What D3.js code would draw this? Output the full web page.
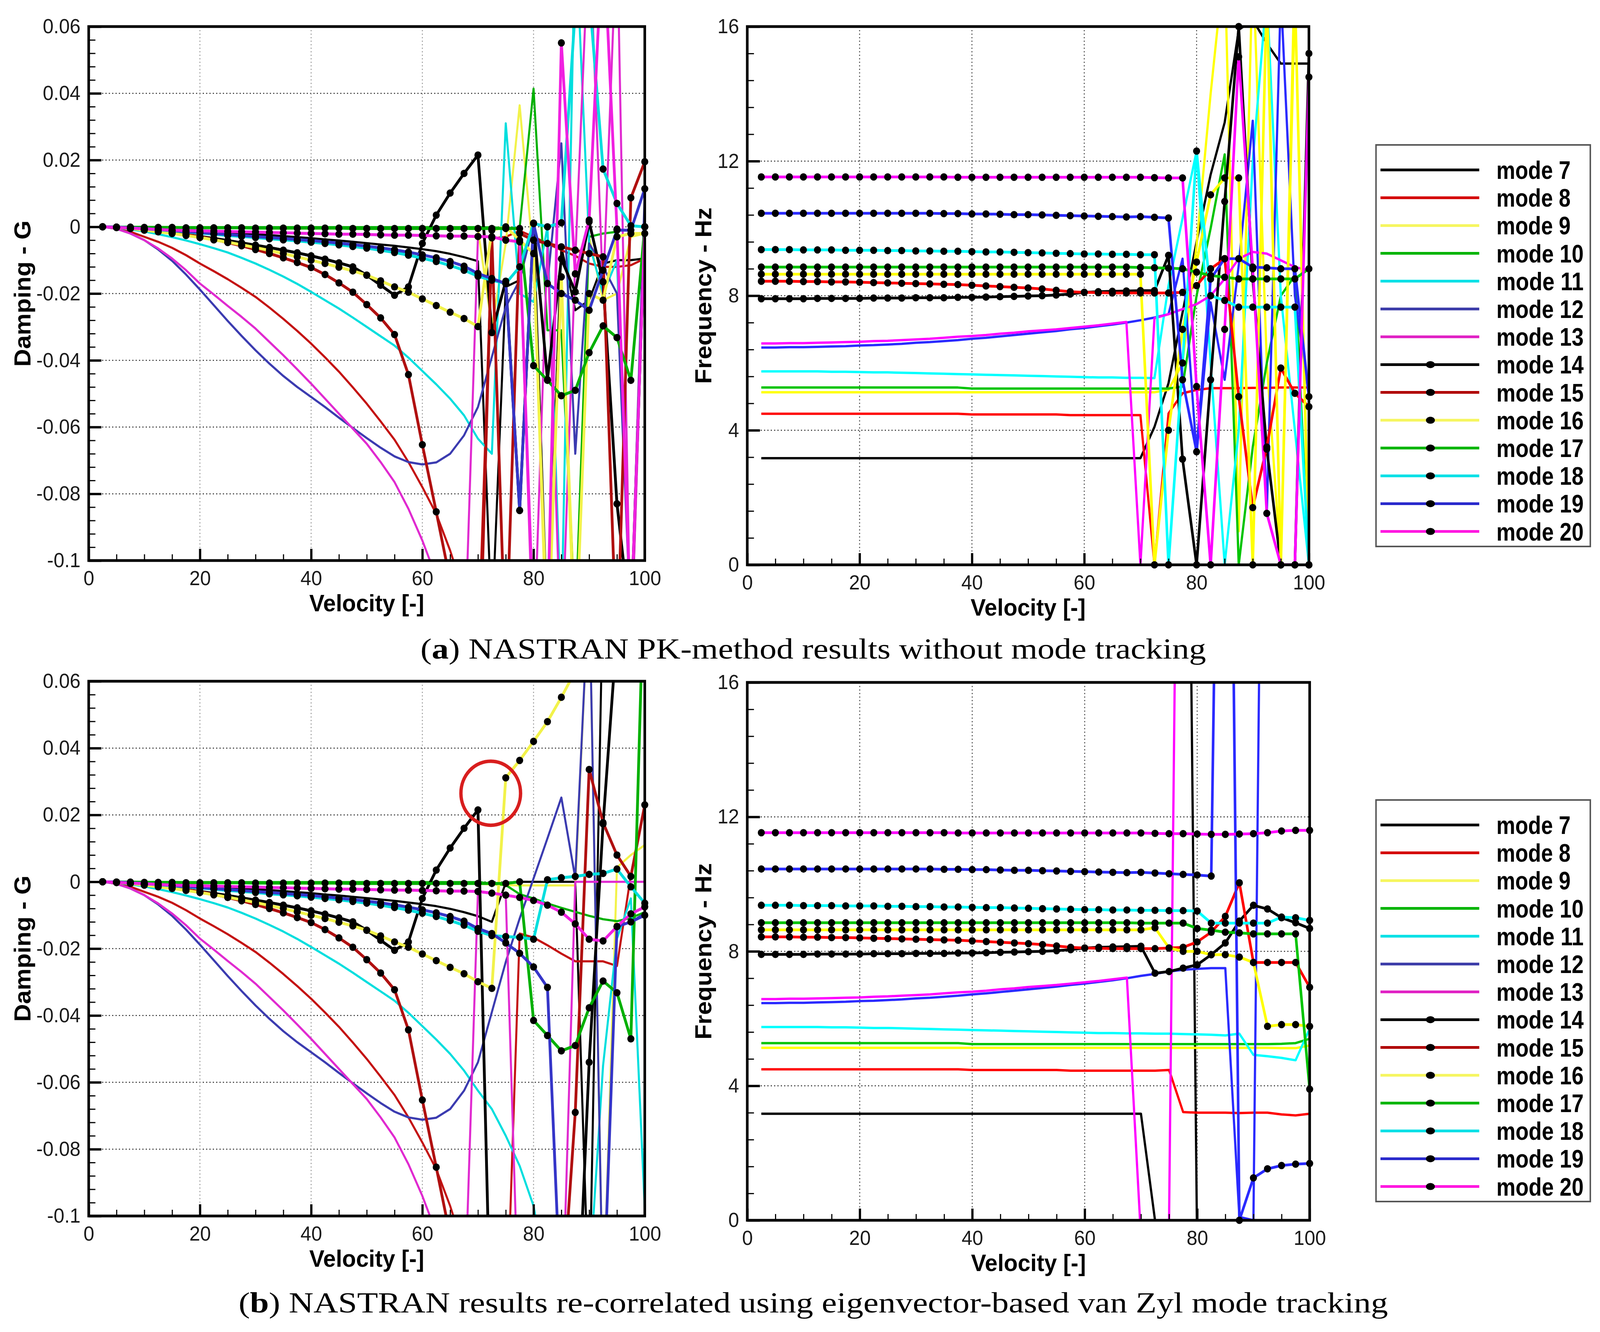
<!DOCTYPE html>
<html>
<head>
<meta charset="utf-8">
<script src="https://cdn.jsdelivr.net/npm/d3@7/dist/d3.min.js"></script>
<style>
  html, body { margin: 0; padding: 0; background: #fff; overflow: hidden; }
  svg { display: block; }
</style>
</head>
<body>
<div id="chart"></div>
<script>
// flutter solution velocities
const velocity = [2.5, 5, 7.5, 10, 12.5, 15, 17.5, 20, 22.5, 25, 27.5, 30, 32.5, 35, 37.5, 40, 42.5, 45, 47.5, 50,
  52.5, 55, 57.5, 60, 62.5, 65, 67.5, 70, 72.5, 75, 77.5, 80, 82.5, 85, 87.5, 90, 92.5, 95, 97.5, 100];
const modes = [7, 8, 9, 10, 11, 12, 13, 14, 15, 16, 17, 18, 19, 20];
const legendLabels = ["mode 7", "mode 8", "mode 9", "mode 10", "mode 11", "mode 12", "mode 13",
  "mode 14", "mode 15", "mode 16", "mode 17", "mode 18", "mode 19", "mode 20"];
const velTicks = [0, 20, 40, 60, 80, 100];
const dampTicks = [-0.1, -0.08, -0.06, -0.04, -0.02, 0, 0.02, 0.04, 0.06];
const freqTicks = [0, 4, 8, 12, 16];
const captionA = ["a", ") NASTRAN PK-method results without mode tracking"];
const captionB = ["b", ") NASTRAN results re-correlated using eigenvector-based van Zyl mode tracking"];

// damping G, V = 2.5 .. 67.5 (same in both runs)
const gHead7 = [0,-0.0001,-0.0002,-0.0004,-0.0005,-0.0007,-0.0009,-0.0012,-0.0014,-0.0017,-0.0019,-0.0022,-0.0025,-0.0028,-0.0031,-0.0034,-0.0038,-0.0041,-0.0045,-0.0049,-0.0053,-0.0057,-0.0062,-0.0067,-0.0073,-0.0081,-0.0091];
const gHead8 = [0,-0.0005,-0.0015,-0.003,-0.0045,-0.0063,-0.0085,-0.011,-0.0133,-0.0157,-0.0183,-0.021,-0.0242,-0.0276,-0.0312,-0.035,-0.0391,-0.0434,-0.0481,-0.053,-0.0583,-0.0638,-0.0705,-0.078,-0.086,-0.097,-0.11];
const gHead9 = [0,-0.0001,-0.0001,-0.0002,-0.0002,-0.0003,-0.0003,-0.0003,-0.0004,-0.0004,-0.0004,-0.0004,-0.0005,-0.0005,-0.0005,-0.0005,-0.0005,-0.0005,-0.0006,-0.0006,-0.0006,-0.0006,-0.0006,-0.0006,-0.0006,-0.0006,-0.0006];
const gHead10 = [0,0,0,0,-0.0001,-0.0001,-0.0001,-0.0001,-0.0001,-0.0001,-0.0001,-0.0001,-0.0001,-0.0001,-0.0001,-0.0001,-0.0001,-0.0001,-0.0001,-0.0001,-0.0001,-0.0001,-0.0001,-0.0001,-0.0001,-0.0001,-0.0001];
const gHead11 = [0,-0.0003,-0.0008,-0.0014,-0.0022,-0.0031,-0.0041,-0.0052,-0.0064,-0.0077,-0.0093,-0.011,-0.0129,-0.0149,-0.0171,-0.0195,-0.022,-0.0245,-0.0272,-0.03,-0.0328,-0.0356,-0.0392,-0.0432,-0.0472,-0.0515,-0.0565];
const gHead12 = [0,-0.0006,-0.002,-0.004,-0.0068,-0.0102,-0.0143,-0.0188,-0.0235,-0.0282,-0.0327,-0.037,-0.041,-0.0447,-0.048,-0.051,-0.054,-0.0572,-0.0603,-0.0633,-0.0662,-0.0688,-0.0705,-0.0712,-0.0706,-0.068,-0.0625];
const gHead13 = [0,-0.0006,-0.002,-0.004,-0.0065,-0.0095,-0.013,-0.017,-0.0203,-0.0237,-0.027,-0.0305,-0.0345,-0.0385,-0.0427,-0.047,-0.0515,-0.056,-0.0605,-0.065,-0.0705,-0.0765,-0.0845,-0.094,-0.105,-0.118,-0.132];
const gHead14 = [0,-0.0002,-0.0005,-0.0009,-0.0013,-0.0018,-0.0023,-0.0029,-0.0035,-0.0041,-0.0048,-0.0055,-0.0062,-0.007,-0.0078,-0.0087,-0.0097,-0.0108,-0.012,-0.0145,-0.0175,-0.0205,-0.018,-0.005,0.0035,0.0101,0.016];
const gHead15 = [0,-0.0002,-0.0004,-0.0008,-0.0012,-0.0017,-0.0023,-0.003,-0.0038,-0.0047,-0.0057,-0.0068,-0.008,-0.0093,-0.0107,-0.0122,-0.0143,-0.0168,-0.0196,-0.0233,-0.0273,-0.0323,-0.0443,-0.0653,-0.0854,-0.106,-0.13];
const gHead16 = [0,-0.0002,-0.0005,-0.001,-0.0015,-0.002,-0.0026,-0.0032,-0.0039,-0.0046,-0.0054,-0.0062,-0.0071,-0.008,-0.009,-0.01,-0.011,-0.0121,-0.0132,-0.0145,-0.0162,-0.018,-0.0196,-0.0216,-0.0236,-0.0256,-0.0275];
const gHead17 = [0,-0.0001,-0.0001,-0.0002,-0.0002,-0.0002,-0.0003,-0.0003,-0.0003,-0.0003,-0.0003,-0.0004,-0.0004,-0.0004,-0.0004,-0.0004,-0.0004,-0.0004,-0.0005,-0.0005,-0.0005,-0.0005,-0.0005,-0.0005,-0.0005,-0.0005,-0.0005];
const gHead18 = [0,-0.0001,-0.0003,-0.0006,-0.0009,-0.0012,-0.0015,-0.0019,-0.0022,-0.0026,-0.0029,-0.0032,-0.0036,-0.0039,-0.0042,-0.0046,-0.005,-0.0054,-0.0059,-0.0064,-0.007,-0.0077,-0.0085,-0.0094,-0.0104,-0.0116,-0.013];
const gHead19 = [0,-0.0001,-0.0003,-0.0005,-0.0008,-0.0011,-0.0014,-0.0017,-0.002,-0.0023,-0.0026,-0.0029,-0.0032,-0.0035,-0.0038,-0.0041,-0.0045,-0.0049,-0.0053,-0.0058,-0.0063,-0.0069,-0.0076,-0.0084,-0.0093,-0.0104,-0.0118];
const gHead20 = [0,-0.0002,-0.0004,-0.0006,-0.0008,-0.001,-0.0011,-0.0012,-0.0013,-0.0014,-0.0015,-0.0016,-0.0017,-0.0018,-0.0019,-0.002,-0.0021,-0.0022,-0.0022,-0.0023,-0.0024,-0.0025,-0.0025,-0.0026,-0.0027,-0.0028,-0.0028];

// damping G, V = 70 .. 100, without mode tracking
const gA7 = [-0.0103,-0.12,-0.018,-0.016,0.001,-0.12,-0.006,-0.025,-0.022,-0.011,-0.01,-0.01,-0.0095];
const gA8 = [-0.13,-0.0035,-0.003,-0.0012,-0.003,-0.005,-0.007,-0.0087,-0.011,-0.012,-0.012,-0.0115,-0.0095];
const gA9 = [-0.0006,-0.03,-0.005,0.0364,-0.01,-0.12,-0.015,-0.12,-0.003,-0.022,-0.02,-0.003,-0.002];
const gA10 = [-0.0001,-0.0002,-0.0003,-0.0003,0.0414,-0.031,-0.031,-0.12,-0.003,-0.002,-0.0015,-0.12,0];
const gA11 = [-0.0635,-0.068,0.031,-0.02,-0.0225,0,-0.12,0.09,-0.005,-0.02,-0.01,-0.12,0];
const gA12 = [-0.054,-0.039,-0.024,-0.016,0.001,-0.017,0.025,-0.068,-0.005,-0.012,-0.02,-0.12,0.011];
const gA13 = [-0.003,-0.003,-0.13,-0.004,-0.13,-0.005,-0.13,-0.01,0.09,-0.02,0.09,-0.13,0];
const gA14 = [0.0215,-0.0317,-0.0163,-0.085,0.0011,-0.0458,-0.0096,-0.0195,0.0015,-0.0165,-0.083,-0.12,0];
const gA15 = [-0.15,-0.0033,-0.13,-0.002,-0.004,-0.005,-0.006,-0.007,-0.008,-0.009,-0.13,0.0087,0.0195];
const gA16 = [-0.0299,-0.001,0,-0.004,-0.008,-0.13,-0.015,-0.13,-0.02,-0.022,-0.003,-0.002,-0.002];
const gA17 = [-0.0005,-0.0005,-0.0005,-0.0005,-0.0416,-0.046,-0.0506,-0.049,-0.0377,-0.0297,-0.0332,-0.046,0];
const gA18 = [-0.0148,-0.016,-0.017,-0.012,0.001,0,0.0012,0.065,0.07,0.0173,0.007,0.0003,0];
const gA19 = [-0.014,-0.0155,-0.017,-0.085,0.001,-0.017,-0.02,-0.022,-0.025,-0.013,-0.001,-0.001,0.0114];
const gA20 = [-0.0029,-0.003,-0.004,-0.0045,-0.12,-0.12,0.0551,-0.0141,0.002,0.09,-0.0007,-0.12,0];

// damping G, V = 70 .. 100, van Zyl tracking
const gB7 = [-0.0103,-0.012,-0.0003,0,0,0,0,0,-0.13,0.09,0.09,0.09,0.09];
const gB8 = [-0.12,-0.13,-0.14,-0.0155,-0.0167,-0.019,-0.0215,-0.0238,-0.0238,-0.0238,-0.0252,0.002,0.023];
const gB9 = [-0.0006,-0.0008,-0.001,-0.0011,-0.0011,-0.0011,-0.0011,-0.0011,0.09,-0.13,0.0043,0.008,0.011];
const gB10 = [-0.0001,-0.0005,-0.001,-0.0037,-0.005,-0.0065,-0.0078,-0.009,-0.0102,-0.0112,-0.0118,-0.0108,-0.0091];
const gB11 = [-0.0625,-0.068,-0.076,-0.085,-0.097,-0.12,-0.12,-0.12,-0.12,-0.055,-0.017,-0.005,-0.098];
const gB12 = [-0.054,-0.039,-0.024,-0.011,0.001,0.013,0.0252,0.0011,0.09,-0.13,-0.0135,-0.012,-0.0095];
const gB13 = [-0.003,-0.0035,-0.004,-0.14,-0.14,-0.14,-0.14,0,0,0,0,0,0];
const gB14 = [0.0215,-0.15,-0.15,-0.15,-0.15,-0.15,-0.15,-0.15,-0.054,0.0173,0.075,0.09,0.09];
const gB15 = [-0.15,-0.15,-0.15,-0.15,-0.15,-0.15,-0.13,-0.069,0.0336,0.0177,0.008,0.0016,0.023];
const gB16 = [-0.0299,-0.0319,0.0311,0.0363,0.042,0.0479,0.0552,0.063,0.07,0.08,0.09,0.1,0.1];
const gB17 = [-0.0005,-0.0005,-0.0005,0,-0.0415,-0.046,-0.0506,-0.049,-0.0377,-0.0297,-0.0332,-0.047,0.1];
const gB18 = [-0.0148,-0.0161,-0.0164,-0.0166,-0.0172,0.0006,0.0012,0.0016,0.0022,0.0025,0.0038,-0.0015,-0.0064];
const gB19 = [-0.014,-0.0155,-0.0183,-0.0214,-0.0255,-0.0316,-0.13,-0.13,-0.13,-0.13,-0.0134,-0.012,-0.01];
const gB20 = [-0.0029,-0.0034,-0.004,-0.0047,-0.0056,-0.007,-0.0091,-0.0126,-0.0172,-0.0177,-0.0134,-0.0096,-0.0075];

// frequency Hz, V = 2.5 .. 67.5 (same in both runs)
const fHead7 = [3.17,3.17,3.17,3.17,3.17,3.17,3.17,3.17,3.17,3.17,3.17,3.17,3.17,3.17,3.17,3.17,3.17,3.17,3.17,3.17,3.17,3.17,3.17,3.17,3.17,3.17,3.17];
const fHead8 = [4.49,4.49,4.49,4.49,4.49,4.49,4.49,4.49,4.49,4.49,4.49,4.49,4.49,4.49,4.49,4.47,4.47,4.47,4.47,4.47,4.47,4.47,4.45,4.45,4.45,4.45,4.45];
const fHead9 = [5.13,5.13,5.13,5.13,5.13,5.13,5.13,5.13,5.13,5.13,5.13,5.13,5.13,5.13,5.13,5.13,5.13,5.13,5.13,5.13,5.13,5.13,5.13,5.13,5.13,5.13,5.13];
const fHead10 = [5.27,5.27,5.27,5.27,5.27,5.27,5.27,5.27,5.27,5.27,5.27,5.27,5.27,5.27,5.27,5.24,5.24,5.24,5.24,5.24,5.24,5.24,5.24,5.24,5.24,5.24,5.24];
const fHead11 = [5.75,5.75,5.75,5.75,5.75,5.74,5.74,5.73,5.72,5.72,5.71,5.7,5.69,5.68,5.67,5.66,5.65,5.64,5.63,5.62,5.61,5.6,5.59,5.58,5.57,5.57,5.56];
const fHead12 = [6.46,6.46,6.47,6.47,6.48,6.49,6.5,6.52,6.53,6.55,6.57,6.6,6.62,6.65,6.68,6.72,6.75,6.79,6.83,6.87,6.91,6.95,7.0,7.04,7.09,7.14,7.2];
const fHead13 = [6.58,6.58,6.59,6.59,6.6,6.61,6.62,6.63,6.65,6.66,6.68,6.7,6.72,6.75,6.78,6.8,6.83,6.87,6.9,6.94,6.97,7.0,7.04,7.08,7.12,7.17,7.22];
const fHead14 = [7.91,7.91,7.91,7.91,7.92,7.92,7.92,7.92,7.93,7.93,7.93,7.94,7.94,7.94,7.95,7.95,7.96,7.97,7.98,7.99,8.0,8.02,8.05,8.1,8.12,8.13,8.14];
const fHead15 = [8.43,8.43,8.43,8.42,8.42,8.41,8.41,8.4,8.39,8.38,8.37,8.36,8.35,8.34,8.33,8.31,8.29,8.27,8.25,8.23,8.2,8.16,8.12,8.1,8.09,8.08,8.08];
const fHead16 = [8.64,8.64,8.64,8.64,8.64,8.64,8.64,8.64,8.64,8.64,8.64,8.64,8.64,8.64,8.64,8.64,8.64,8.64,8.64,8.64,8.64,8.64,8.64,8.64,8.64,8.64,8.64];
const fHead17 = [8.85,8.85,8.85,8.85,8.85,8.85,8.85,8.85,8.85,8.85,8.85,8.85,8.85,8.85,8.85,8.85,8.85,8.85,8.85,8.85,8.85,8.85,8.85,8.85,8.85,8.85,8.85];
const fHead18 = [9.37,9.37,9.37,9.36,9.36,9.36,9.35,9.35,9.35,9.34,9.34,9.33,9.33,9.32,9.32,9.31,9.3,9.3,9.29,9.28,9.27,9.26,9.25,9.24,9.24,9.23,9.23];
const fHead19 = [10.45,10.45,10.45,10.45,10.45,10.45,10.45,10.45,10.45,10.45,10.45,10.45,10.45,10.44,10.44,10.43,10.43,10.42,10.41,10.41,10.4,10.39,10.38,10.37,10.36,10.35,10.34];
const fHead20 = [11.53,11.53,11.53,11.53,11.53,11.53,11.53,11.53,11.53,11.53,11.53,11.53,11.53,11.53,11.52,11.52,11.52,11.52,11.52,11.52,11.52,11.52,11.52,11.52,11.52,11.52,11.52];

// frequency Hz, V = 70 .. 100, without mode tracking
const fA7 = [3.17,4.1,5.4,7.5,9.6,11.6,13.15,15.9,16.2,15.5,14.9,14.9,14.9];
const fA8 = [4.45,0,4.5,5.1,5.2,5.25,5.25,5.25,5.26,5.26,5.27,5.27,5.27];
const fA9 = [5.13,5.13,5.2,6.0,9.5,14.0,18,1.0,18,6.0,0,18,18];
const fA10 = [5.24,5.24,5.24,5.3,8.0,10.0,12.2,0,3.5,6.0,8.0,8.6,0];
const fA11 = [5.56,5.55,8.3,10.3,12.3,6.0,0,4.0,12.0,17,8.0,4.0,0];
const fA12 = [7.27,7.35,7.45,9.1,3.3,7.8,5.5,8.9,13.2,1.5,17,8.0,5.0];
const fA13 = [0,7.33,7.45,7.6,7.75,8.0,8.5,9.1,9.3,9.25,9.05,8.85,8.75];
const fA14 = [8.15,8.15,9.2,3.14,0,5.5,10.8,16.0,8.5,3.44,0,0,15.2];
const fA15 = [8.08,8.08,8.08,8.1,8.3,8.8,9.1,5.0,1.7,3.5,5.85,5.1,4.7];
const fA16 = [8.64,0,4.0,7.0,9.0,11.0,11.5,11.5,0,17,0,17,0];
const fA17 = [8.84,8.83,8.82,8.8,8.7,8.6,8.55,8.5,8.5,8.5,8.5,8.5,8.8];
const fA18 = [9.22,9.22,0,6.0,12.3,8.0,7.86,7.66,7.66,7.66,7.66,7.66,0];
const fA19 = [10.35,10.33,10.31,5.5,3.36,8.5,9.1,9.1,8.85,8.83,8.8,8.8,5.0];
const fA20 = [11.52,11.51,11.5,11.5,5.3,0,7.0,15.1,8.8,1.53,0,0,14.5];

// frequency Hz, V = 70 .. 100, van Zyl tracking
const fB7 = [3.17,0,null,40,-1,null,null,null,null,null,null,null,null];
const fB8 = [4.45,4.45,4.47,3.22,3.2,3.2,3.2,3.19,3.2,3.2,3.15,3.12,3.17];
const fB9 = [5.13,5.13,5.13,5.13,5.13,5.13,5.13,5.13,5.13,5.13,5.12,5.12,5.2];
const fB10 = [5.24,5.24,5.24,5.24,5.24,5.24,5.24,5.24,5.24,5.24,5.25,5.27,5.4];
const fB11 = [5.56,5.55,5.55,5.54,5.53,5.52,5.5,5.55,4.92,4.88,4.83,4.76,5.7];
const fB12 = [7.27,7.33,7.4,7.45,7.48,7.5,7.5,0.1,0,40,null,null,null];
const fB13 = [-0.5,null,0,40,null,null,null,null,null,null,null,null,null];
const fB14 = [8.15,7.35,7.4,7.5,7.6,7.9,8.25,8.9,9.37,9.26,9.0,8.85,8.68];
const fB15 = [8.08,8.08,8.1,8.12,8.28,8.57,9.04,10.04,7.67,7.67,7.67,7.67,6.93];
const fB16 = [8.64,8.7,8.1,8.0,8.0,7.9,7.9,7.83,7.67,5.77,5.82,5.82,5.77];
const fB17 = [8.84,8.84,8.84,8.84,8.68,8.63,8.57,8.55,8.52,8.52,8.52,8.52,3.9];
const fB18 = [9.22,9.22,9.21,9.21,9.2,8.84,8.84,8.84,8.84,8.84,9.02,9.0,8.92];
const fB19 = [10.35,10.33,10.31,10.29,10.27,10.24,40,0,1.26,1.53,1.63,1.67,1.69];
const fB20 = [11.52,11.51,11.5,11.5,11.49,11.48,11.48,11.49,11.5,11.53,11.58,11.6,11.6];

document.addEventListener('DOMContentLoaded', function() {

    const width = 4293;
    const height = 3410;
    const sans = "'Liberation Sans', Arial, Helvetica, sans-serif";

    // the drawing is laid out in a 4293 x 3410 box and stretched to the window
    const svg = d3.select("#chart")
        .append("svg")
        .attr("viewBox", `0 0 ${width} ${height}`)
        .attr("preserveAspectRatio", "none")
        .style("width", "100vw")
        .style("height", "100vh");

    svg.append("rect").attr("width", width).attr("height", height).attr("fill", "#fff");

    const dampColor = d3.scaleOrdinal().domain(modes)
        .range(["#000000", "#c41212", "#f2f24a", "#00b000", "#00dede", "#3b3bb0", "#e02ad0",
                "#000000", "#b01010", "#f2f24a", "#00b000", "#00dede", "#3535c8", "#f020e0"]);
    const freqColor = d3.scaleOrdinal().domain(modes)
        .range(["#000000", "#ff0000", "#ffff00", "#00c400", "#00ffff", "#2a2aff", "#ff00ff",
                "#000000", "#ff0000", "#ffff00", "#00c400", "#00ffff", "#2a2aff", "#ff00ff"]);
    const legendColor = d3.scaleOrdinal().domain(modes)
        .range(["#000000", "#d40000", "#f6f660", "#00b400", "#00e0e6", "#3a3aa8", "#e020c4",
                "#000000", "#b00000", "#f6f660", "#00b400", "#00e0e6", "#2a2acc", "#ff18e0"]);

    const gHead = {7: gHead7, 8: gHead8, 9: gHead9, 10: gHead10, 11: gHead11, 12: gHead12, 13: gHead13,
                   14: gHead14, 15: gHead15, 16: gHead16, 17: gHead17, 18: gHead18, 19: gHead19, 20: gHead20};
    const gTailA = {7: gA7, 8: gA8, 9: gA9, 10: gA10, 11: gA11, 12: gA12, 13: gA13,
                    14: gA14, 15: gA15, 16: gA16, 17: gA17, 18: gA18, 19: gA19, 20: gA20};
    const gTailB = {7: gB7, 8: gB8, 9: gB9, 10: gB10, 11: gB11, 12: gB12, 13: gB13,
                    14: gB14, 15: gB15, 16: gB16, 17: gB17, 18: gB18, 19: gB19, 20: gB20};
    const fHead = {7: fHead7, 8: fHead8, 9: fHead9, 10: fHead10, 11: fHead11, 12: fHead12, 13: fHead13,
                   14: fHead14, 15: fHead15, 16: fHead16, 17: fHead17, 18: fHead18, 19: fHead19, 20: fHead20};
    const fTailA = {7: fA7, 8: fA8, 9: fA9, 10: fA10, 11: fA11, 12: fA12, 13: fA13,
                    14: fA14, 15: fA15, 16: fA16, 17: fA17, 18: fA18, 19: fA19, 20: fA20};
    const fTailB = {7: fB7, 8: fB8, 9: fB9, 10: fB10, 11: fB11, 12: fB12, 13: fB13,
                    14: fB14, 15: fB15, 16: fB16, 17: fB17, 18: fB18, 19: fB19, 20: fB20};

    const hasSymbol = m => m >= 14;

    function seriesFor(head, tail) {
        return modes.map(m => ({
            mode: m,
            points: head[m].concat(tail[m]).map((v, i) => [velocity[i], v])
        }));
    }

    function panel(o) {
        const x = d3.scaleLinear().domain([0, 100]).range([o.left, o.right]);
        const y = d3.scaleLinear().domain([o.yTicks[0], o.yTicks[o.yTicks.length - 1]]).range([o.bottom, o.top]);
        const w = o.right - o.left, h = o.bottom - o.top;

        const defs = svg.append("defs");
        defs.append("clipPath").attr("id", o.id + "-l")
            .append("rect").attr("x", o.left).attr("y", o.top).attr("width", w).attr("height", h);
        defs.append("clipPath").attr("id", o.id + "-d")
            .append("rect").attr("x", o.left - 12).attr("y", o.top - 12).attr("width", w + 24).attr("height", h + 24);

        // dotted grid
        const grid = svg.append("g");
        grid.selectAll("line.h").data(o.yTicks.slice(1, -1)).join("line")
            .attr("class", "h")
            .attr("x1", o.left).attr("x2", o.right)
            .attr("y1", d => y(d)).attr("y2", d => y(d))
            .style("stroke", "#222").style("stroke-width", 2.5).style("stroke-dasharray", "3,6");
        grid.selectAll("line.v").data(velTicks.slice(1, -1)).join("line")
            .attr("class", "v")
            .attr("x1", d => x(d)).attr("x2", d => x(d))
            .attr("y1", o.top).attr("y2", o.bottom)
            .style("stroke", o.vGrid).style("stroke-width", 2.5).style("stroke-dasharray", "3,6");

        // curves
        const line = d3.line()
            .defined(d => d[1] != null)
            .x(d => x(d[0]))
            .y(d => y(d[1]));

        const lines = svg.append("g").attr("clip-path", `url(#${o.id}-l)`);
        const dots = svg.append("g").attr("clip-path", `url(#${o.id}-d)`);

        o.series.forEach(s => {
            lines.append("path")
                .datum(s.points)
                .attr("d", line)
                .style("fill", "none")
                .style("stroke", o.color(s.mode))
                .style("stroke-width", hasSymbol(s.mode) ? o.wide : o.thin)
                .style("stroke-linejoin", "round");
        });
        o.series.filter(s => hasSymbol(s.mode)).forEach(s => {
            dots.append("g").selectAll("circle")
                .data(s.points.filter(d => d[1] != null && d[1] >= y.domain()[0] - 0.001 * o.span && d[1] <= y.domain()[1] + 0.001 * o.span))
                .join("circle")
                .attr("cx", d => x(d[0]))
                .attr("cy", d => y(d[1]))
                .attr("r", 9.5)
                .style("fill", "#000");
        });

        // axes, ticks point into the plot
        const yMinor = d3.range(0, Math.round((y.domain()[1] - y.domain()[0]) / o.yMinorStep) + 1)
            .map(k => y.domain()[0] + k * o.yMinorStep);
        const xMinor = d3.range(0, 21).map(k => k * 5);

        function styleAxis(g, sw) {
            g.select(".domain").remove();
            g.selectAll("line").style("stroke", "#000").style("stroke-width", sw);
            g.selectAll("text")
                .style("font-family", sans)
                .style("font-size", "52px")
                .style("fill", "#1a1a1a");
        }

        svg.append("g").attr("transform", `translate(${o.left},0)`)
            .call(d3.axisLeft(y).tickValues(yMinor).tickSize(-18).tickFormat(""))
            .call(g => styleAxis(g, 3));
        svg.append("g").attr("transform", `translate(${o.left},0)`)
            .call(d3.axisLeft(y).tickValues(o.yTicks).tickSize(-34).tickPadding(22).tickFormat(o.fmt))
            .call(g => styleAxis(g, 6));
        svg.append("g").attr("transform", `translate(0,${o.bottom})`)
            .call(d3.axisBottom(x).tickValues(xMinor).tickSize(-16).tickFormat(""))
            .call(g => styleAxis(g, 3));
        svg.append("g").attr("transform", `translate(0,${o.bottom})`)
            .call(d3.axisBottom(x).tickValues(velTicks).tickSize(-30).tickPadding(26).tickFormat(d3.format("d")))
            .call(g => styleAxis(g, 6));

        svg.append("rect")
            .attr("x", o.left).attr("y", o.top).attr("width", w).attr("height", h)
            .style("fill", "none").style("stroke", "#000").style("stroke-width", 7);

        svg.append("text")
            .attr("x", (o.left + o.right) / 2).attr("y", o.bottom + 130)
            .attr("text-anchor", "middle")
            .style("font-family", sans).style("font-weight", "bold").style("font-size", "61px")
            .text("Velocity [-]");

        svg.append("text")
            .attr("transform", `translate(${o.titleX},${(o.top + o.bottom) / 2}) rotate(-90)`)
            .attr("text-anchor", "middle")
            .attr("dy", "0.35em")
            .style("font-family", sans).style("font-weight", "bold").style("font-size", "63px")
            .text(o.title);
    }

    function legend(top) {
        const g = svg.append("g");
        g.append("rect")
            .attr("x", 3692).attr("y", top).attr("width", 575).attr("height", 1028)
            .style("fill", "#fff").style("stroke", "#555").style("stroke-width", 4);
        const row = g.selectAll("g").data(modes).join("g")
            .attr("transform", (d, i) => `translate(0,${top + 64 + i * 71.2})`);
        row.append("line")
            .attr("x1", 3704).attr("x2", 3969).attr("y1", 0).attr("y2", 0)
            .style("stroke", d => legendColor(d)).style("stroke-width", 7);
        row.filter(d => hasSymbol(d)).append("ellipse")
            .attr("cx", 3838).attr("cy", 0).attr("rx", 12).attr("ry", 9)
            .style("fill", "#000");
        row.append("text")
            .attr("x", 4015).attr("y", 0).attr("dy", "0.36em")
            .attr("textLength", (d, i) => legendLabels[i].length > 6 ? 234 : 199)
            .attr("lengthAdjust", "spacingAndGlyphs")
            .style("font-family", sans).style("font-weight", "bold").style("font-size", "64px")
            .text((d, i) => legendLabels[i]);
    }

    function caption(parts, x0, x1, baseline) {
        const t = svg.append("text")
            .attr("x", x0).attr("y", baseline)
            .attr("textLength", x1 - x0).attr("lengthAdjust", "spacingAndGlyphs")
            .style("font-family", "'Liberation Serif', 'DejaVu Serif', serif")
            .style("font-size", "74px");
        t.append("tspan").text("(");
        t.append("tspan").style("font-weight", "bold").text(parts[0]);
        t.append("tspan").text(parts[1]);
    }

    const dampFmt = d => String(+d.toFixed(2));

    panel({ id: "ga", left: 238, right: 1730, top: 68, bottom: 1435,
            yTicks: dampTicks, yMinorStep: 0.004, span: 0.16, fmt: dampFmt,
            color: dampColor, thin: 5.5, wide: 7.5, vGrid: "#999",
            title: "Damping - G", titleX: 60,
            series: seriesFor(gHead, gTailA) });
    panel({ id: "fa", left: 2005, right: 3512, top: 68, bottom: 1446,
            yTicks: freqTicks, yMinorStep: 0.8, span: 16, fmt: d3.format("d"),
            color: freqColor, thin: 6, wide: 7, vGrid: "#444",
            title: "Frequency - Hz", titleX: 1886,
            series: seriesFor(fHead, fTailA) });
    panel({ id: "gb", left: 238, right: 1730, top: 1744, bottom: 3113,
            yTicks: dampTicks, yMinorStep: 0.004, span: 0.16, fmt: dampFmt,
            color: dampColor, thin: 5.5, wide: 7.5, vGrid: "#999",
            title: "Damping - G", titleX: 60,
            series: seriesFor(gHead, gTailB) });
    panel({ id: "fb", left: 2005, right: 3514, top: 1747, bottom: 3124,
            yTicks: freqTicks, yMinorStep: 0.8, span: 16, fmt: d3.format("d"),
            color: freqColor, thin: 6, wide: 7, vGrid: "#444",
            title: "Frequency - Hz", titleX: 1886,
            series: seriesFor(fHead, fTailB) });

    legend(371);
    legend(2048);

    // the red ring drawn on the tracked damping plot
    const xb = d3.scaleLinear().domain([0, 100]).range([238, 1730]);
    const yb = d3.scaleLinear().domain([-0.1, 0.06]).range([3113, 1744]);
    svg.append("ellipse")
        .attr("cx", xb(72.3)).attr("cy", yb(0.0265))
        .attr("rx", 80).attr("ry", 82)
        .style("fill", "none").style("stroke", "#d81e1e").style("stroke-width", 9);

    caption(captionA, 1128, 3236, 1686);
    caption(captionB, 640, 3724, 3360);
});
</script>
</body>
</html>
